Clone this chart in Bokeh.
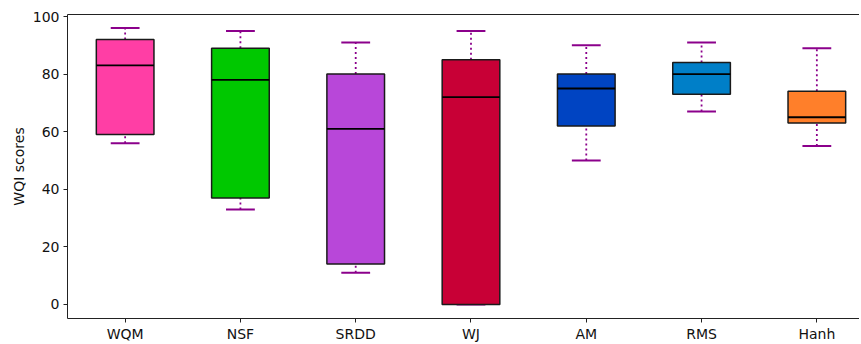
from bokeh.plotting import figure
from bokeh.models import LinearAxis, FixedTicker, Range1d, ColumnDataSource
from bokeh.embed import file_html
from bokeh.resources import INLINE

methods = ["WQM", "NSF", "SRDD", "WJ", "AM", "RMS", "Hanh"]
lower_whisker = [56, 33, 11, 0, 50, 67, 55]
q1 = [59, 37, 14, 0, 62, 73, 63]
median = [83, 78, 61, 72, 75, 80, 65]
q3 = [92, 89, 80, 85, 80, 84, 74]
upper_whisker = [96, 95, 91, 95, 90, 91, 89]
colors = ["#FF3EA5", "#00C800", "#B847D9", "#C80036", "#0044C2", "#007FC8", "#FF7F2A"]

xs = list(range(1, len(methods) + 1))
box_w = 0.5
cap_w = 0.25

src = ColumnDataSource(dict(
    x=xs, lw=lower_whisker, q1=q1, med=median, q3=q3, uw=upper_whisker, color=colors,
    bx0=[x - box_w / 2 for x in xs], bx1=[x + box_w / 2 for x in xs],
    cx0=[x - cap_w / 2 for x in xs], cx1=[x + cap_w / 2 for x in xs],
))

FONT = "DejaVu Sans"
p = figure(width=859, height=344, output_backend="svg", toolbar_location=None,
           x_range=Range1d(0.5, 7.37), y_range=Range1d(-4.9, 100.7),
           min_border_left=67, min_border_right=0, min_border_top=14, min_border_bottom=24)
p.outline_line_color = None
p.grid.visible = False
p.background_fill_color = "white"

# whiskers (dotted)
p.segment(x0="x", y0="q3", x1="x", y1="uw", source=src, line_color="#8B008B",
          line_width=1.8, line_dash="2 3")
p.segment(x0="x", y0="lw", x1="x", y1="q1", source=src, line_color="#8B008B",
          line_width=1.8, line_dash="2 3")
# caps
p.segment(x0="cx0", y0="uw", x1="cx1", y1="uw", source=src, line_color="#8B008B", line_width=2)
p.segment(x0="cx0", y0="lw", x1="cx1", y1="lw", source=src, line_color="#8B008B", line_width=2)
# boxes
p.vbar(x="x", width=box_w, bottom="q1", top="q3", source=src, fill_color="color",
       line_color="#1a1a1a", line_width=1.5)
# medians
p.segment(x0="bx0", y0="med", x1="bx1", y1="med", source=src, line_color="black", line_width=1.8)

p.xaxis.ticker = FixedTicker(ticks=xs)
p.xaxis.major_label_overrides = {x: m for x, m in zip(xs, methods)}
p.yaxis.ticker = FixedTicker(ticks=[0, 20, 40, 60, 80, 100])
p.yaxis.axis_label = "WQI scores"
for ax in (p.xaxis[0], p.yaxis[0]):
    ax.minor_tick_line_color = None
    ax.major_tick_in = 0
    ax.major_tick_out = 4
    ax.axis_line_color = "#222222"
    ax.major_tick_line_color = "#222222"
    ax.major_label_text_font = FONT
    ax.major_label_text_font_size = "14px"
    ax.major_label_text_color = "#111111"
    ax.axis_label_text_font = FONT
    ax.axis_label_text_font_size = "14px"
    ax.axis_label_text_font_style = "normal"
    ax.axis_label_text_color = "#111111"
p.xaxis.major_label_standoff = 3
p.yaxis.major_label_standoff = 4
p.yaxis.axis_label_standoff = 3

top = LinearAxis(ticker=FixedTicker(ticks=[]), major_label_text_font_size="0px",
                 axis_line_color="#222222", major_tick_line_color=None, minor_tick_line_color=None)
p.add_layout(top, "above")

open("out.html", "w").write(file_html(p, INLINE))
